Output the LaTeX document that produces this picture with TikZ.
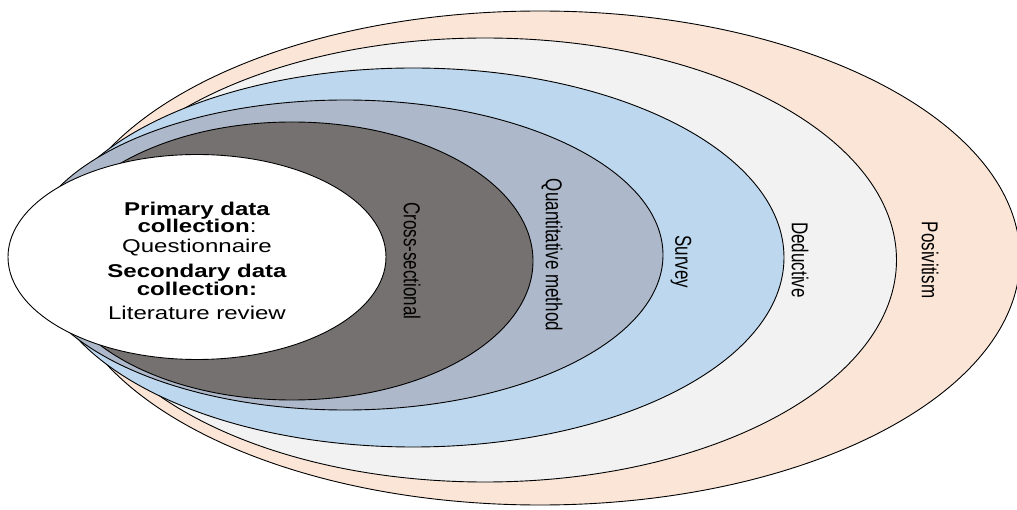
\documentclass[tikz,border=0pt]{standalone}
\usepackage{fontspec}
\setmainfont{Liberation Sans}
\usetikzlibrary{shapes.geometric}
\definecolor{peach}{HTML}{FBE5D6}
\definecolor{paleGrey}{HTML}{F2F2F2}
\definecolor{skyBlue}{HTML}{BDD7EE}
\definecolor{slateBlue}{HTML}{ADB9CA}
\definecolor{darkTaupe}{HTML}{767171}
\newcommand{\wideText}[1]{\scalebox{1.3}[1]{#1}}
\newcommand{\tallText}[1]{\scalebox{1}[1.35]{#1}}

\begin{document}
\begin{tikzpicture}[
  x=1pt, y=-1pt,
  layer/.style={ellipse, draw=black, line width=0.9pt, inner sep=0pt},
  side/.style={rotate=-90, inner sep=0pt, font=\fontsize{17}{17}\selectfont},
  core/.style={anchor=base, inner sep=0pt, font=\fontsize{18.5}{18.5}\selectfont}
]
\clip (0,0) rectangle (1017,510);
%--- nested layers, outside in ---------------------------------------------
\node[layer, fill=peach, minimum width=960pt, minimum height=494pt] (posit) at (540,258) {};
\node[layer, fill=paleGrey, minimum width=823pt, minimum height=444pt] (deduct) at (485,260) {};
\node[layer, fill=skyBlue, minimum width=742pt, minimum height=379pt] (survey) at (413,257.5) {};
\node[layer, fill=slateBlue, minimum width=636pt, minimum height=310pt] (quant) at (345,255) {};
\node[layer, fill=darkTaupe, minimum width=482pt, minimum height=278pt] (cross) at (292,261) {};
\node[layer, fill=white, minimum width=378pt, minimum height=205pt] (data) at (197,257) {};

%--- layer labels ------------------------------------------------------------
\node[side] (lposit) at (930,260) {\tallText{Posivitism}};
\node[side] (ldeduct) at (800,260) {\tallText{Deductive}};
\node[side] (lsurvey) at (681,262) {\tallText{Survey}};
\node[side] (lquant) at (552,255) {\tallText{Quantitative method}};
\node[side] (lcross) at (412,261) {\tallText{Cross-sectional}};

%--- core text ---------------------------------------------------------------
\foreach \nm/\yy/\txt in {%
  1/216/{\bfseries Primary data}, 2/233/{\bfseries collection}:,
  3/253/{Questionnaire}, 4/278/{\bfseries Secondary data},
  5/296/{\bfseries collection:}, 6/320/{Literature review}}{
  \node[core] (t\nm) at (197,\yy) {\wideText{\txt}};
}
\end{tikzpicture}
\end{document}
